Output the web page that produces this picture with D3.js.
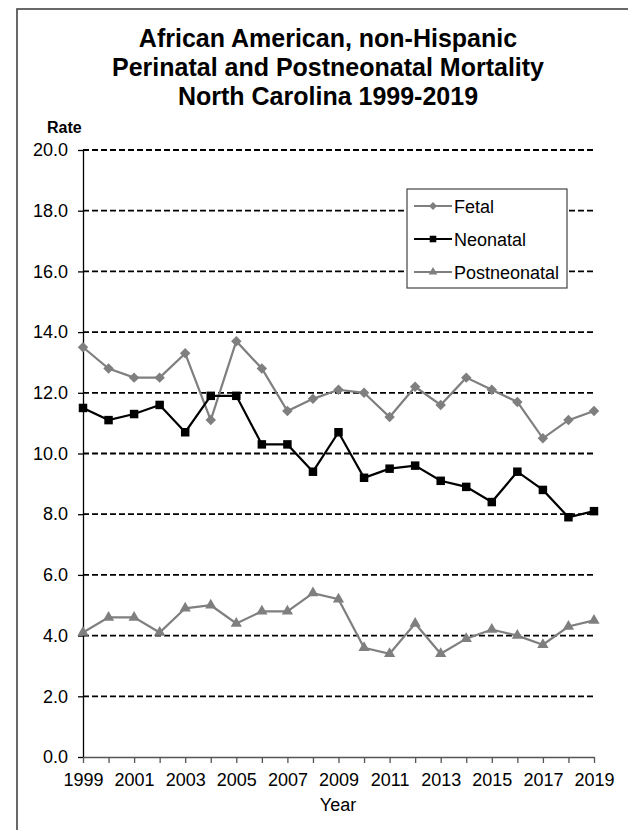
<!DOCTYPE html>
<html><head><meta charset="utf-8">
<script src="https://cdn.jsdelivr.net/npm/d3@7"></script>
<style>body{margin:0;background:#fff}svg{display:block;font-family:"Liberation Sans",Arial,sans-serif}</style>
</head><body>
<svg id="c" width="628" height="830"></svg>
<script>
const years = d3.range(1999, 2020);
const fetal = [13.5,12.8,12.5,12.5,13.3,11.1,13.7,12.8,11.4,11.8,12.1,12.0,11.2,12.2,11.6,12.5,12.1,11.7,10.5,11.1,11.4];
const neonatal = [11.5,11.1,11.3,11.6,10.7,11.9,11.9,10.3,10.3,9.4,10.7,9.2,9.5,9.6,9.1,8.9,8.4,9.4,8.8,7.9,8.1];
const postneonatal = [4.1,4.6,4.6,4.1,4.9,5.0,4.4,4.8,4.8,5.4,5.2,3.6,3.4,4.4,3.4,3.9,4.2,4.0,3.7,4.3,4.5];
const yTicks = [0,2,4,6,8,10,12,14,16,18,20];
const xLabels = [1999,2001,2003,2005,2007,2009,2011,2013,2015,2017,2019];
const titleLines = ["African American, non-Hispanic","Perinatal and Postneonatal Mortality","North Carolina 1999-2019"];

const FONT = "Liberation Sans, Arial, sans-serif";
const svg = d3.select("#c");
// outer border (left and top visible)
svg.append("rect").attr("x",17).attr("y",9).attr("width",700).attr("height",900)
  .attr("fill","none").attr("stroke","#444").attr("stroke-width",1.6);

const x = d3.scaleLinear().domain([1999,2019]).range([83,594]);
const y = d3.scaleLinear().domain([0,20]).range([757,150]);

// title
svg.append("g").selectAll("text").data(titleLines).join("text")
  .attr("x",328).attr("y",(d,i)=>47+i*29.2).attr("text-anchor","middle")
  .attr("font-size",25).attr("font-weight","bold").attr("fill","#000").text(d=>d);
svg.append("text").attr("x",47).attr("y",133).attr("font-size",16).attr("font-weight","bold").text("Rate");

// gridlines
svg.append("g").selectAll("line").data(yTicks.filter(d=>d>0)).join("line")
  .attr("x1",x(1999)).attr("x2",x(2019)).attr("y1",d=>y(d)).attr("y2",d=>y(d))
  .attr("stroke","#000").attr("stroke-width",1.8).attr("stroke-dasharray","6,3");

// y axis
const ya = svg.append("g").attr("transform",`translate(${x(1999)},0)`)
  .call(d3.axisLeft(y).tickValues(yTicks).tickFormat(d3.format(".1f")).tickSize(5).tickPadding(10).tickSizeOuter(0));
ya.select(".domain").attr("stroke","#000").attr("stroke-width",1.3);
ya.selectAll(".tick line").attr("stroke","#000").attr("stroke-width",1.3);
ya.selectAll("text").attr("font-size",18).attr("fill","#000").attr("font-family",FONT);

// x axis
const xa = svg.append("g").attr("transform",`translate(0,${y(0)})`)
  .call(d3.axisBottom(x).tickValues(years).tickFormat(d=>xLabels.includes(d)?d:"").tickSize(6).tickPadding(10).tickSizeOuter(0));
xa.select(".domain").attr("stroke","#555").attr("stroke-width",1.3);
xa.selectAll(".tick line").attr("stroke","#555").attr("stroke-width",1.3);
xa.selectAll("text").attr("font-size",18).attr("fill","#000").attr("font-family",FONT);
svg.append("text").attr("x",338).attr("y",811).attr("text-anchor","middle").attr("font-size",18).text("Year");

const gray = "#7f7f7f";
const series = [
  {name:"Fetal", values:fetal, color:gray, shape:d3.symbolDiamond2, size:70},
  {name:"Neonatal", values:neonatal, color:"#000", shape:d3.symbolSquare, size:72},
  {name:"Postneonatal", values:postneonatal, color:gray, shape:d3.symbolTriangle, size:55}
];
const line = d3.line().x((d,i)=>x(years[i])).y(d=>y(d));
series.forEach(s=>{
  svg.append("path").datum(s.values).attr("d",line).attr("fill","none").attr("stroke",s.color).attr("stroke-width",2.2);
  svg.append("g").selectAll("path").data(s.values).join("path")
    .attr("transform",(d,i)=>`translate(${x(years[i])},${y(d)})`)
    .attr("d",d3.symbol().type(s.shape).size(s.size)).attr("fill",s.color);
});

// legend
const lg = svg.append("g");
lg.append("rect").attr("x",407).attr("y",189).attr("width",160).attr("height",99)
  .attr("fill","#fff").attr("stroke","#444").attr("stroke-width",1.2);
series.forEach((s,i)=>{
  const yy = 206 + i*33;
  lg.append("line").attr("x1",414).attr("x2",452).attr("y1",yy).attr("y2",yy).attr("stroke",s.color).attr("stroke-width",2);
  lg.append("path").attr("transform",`translate(433,${yy})`).attr("d",d3.symbol().type(s.shape).size(s.size*0.6)).attr("fill",s.color);
  lg.append("text").attr("x",454).attr("y",yy+6.5).attr("font-size",18).text(s.name);
});
</script>
</body></html>
